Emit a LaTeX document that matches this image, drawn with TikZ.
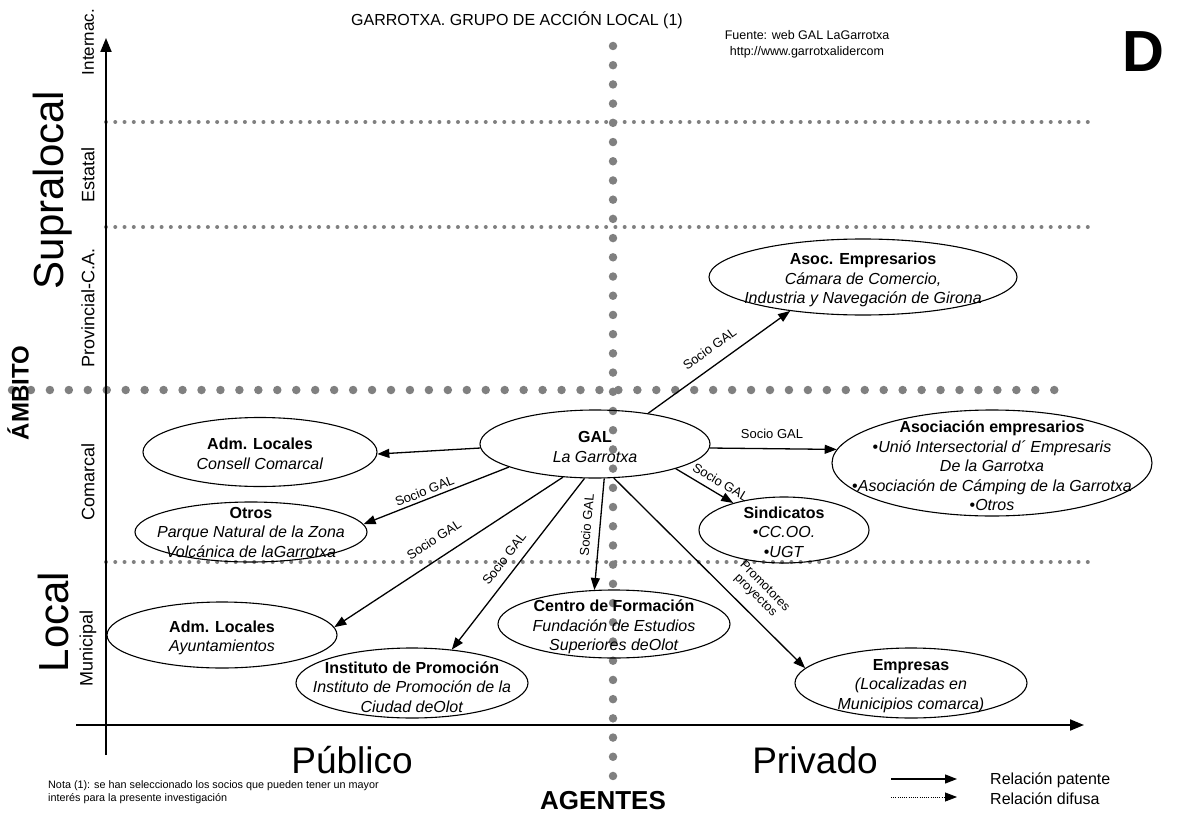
\documentclass[tikz,border=0pt]{standalone}
\usepackage{fontspec}
\setmainfont{Liberation Sans}
\usetikzlibrary{arrows.meta,shapes.geometric}
\definecolor{dotgray}{RGB}{128,128,128}
\begin{document}
\begin{tikzpicture}[x=1pt,y=-1pt,
  ell/.style={draw, ellipse, inner sep=0pt, line width=1.1pt},
  ntext/.style={align=center, inner sep=0pt, font=\fontsize{16}{19.5}\selectfont},
  lab/.style={font=\fontsize{13}{14}\selectfont, inner sep=2pt},
  rel/.style={line width=1.3pt, -{Triangle[length=12pt,width=9pt]}},
  axis/.style={line width=2pt, -{Triangle[length=14pt,width=11pt]}},
  bigdots/.style={dotgray, line width=8.5pt, line cap=round, dash pattern=on 0pt off 18.95pt},
  vbigdots/.style={dotgray, line width=8.5pt, line cap=round, dash pattern=on 0pt off 19.21pt},
  smalldots/.style={dotgray, line width=4pt, line cap=round, dash pattern=on 0pt off 9.262pt},
  axlab/.style={rotate=90, font=\fontsize{18}{20}\selectfont, inner sep=0pt},
  biglab/.style={font=\fontsize{42}{44}\selectfont, inner sep=0pt}
]
\useasboundingbox (0,0) rectangle (1178,816);

% dotted grid lines
\draw[smalldots] (106,122) -- (1097,122);
\draw[smalldots] (106,227) -- (1097,227);
\draw[smalldots] (106,562) -- (1097,562);
\draw[bigdots] (12,390) -- (1073,390);
\draw[vbigdots] (613,46) -- (613,776);

% axes
\coordinate (yb) at (106,755);
\coordinate (yt) at (106,38);
\coordinate (xl) at (76,725);
\coordinate (xr) at (1084,725);
\draw[axis] (yb) -- (yt);
\draw[axis] (xl) -- (xr);

% titles
\node[font=\fontsize{16}{18}\selectfont, inner sep=0pt] (title) at (517,20) {GARROTXA. GRUPO DE ACCIÓN LOCAL (1)};
\node[font=\fontsize{12.5}{16}\selectfont, align=center, inner sep=0pt] (fuente) at (807,44) {Fuente: web GAL LaGarrotxa\\http://www.garrotxalidercom};
\node[font=\fontsize{58}{60}\selectfont\bfseries, inner sep=0pt] (D) at (1143,52) {D};

% axis labels
\node[axlab, font=\fontsize{17}{20}\selectfont] (internac) at (88,42) {Internac.};
\node[axlab] (estatal) at (88,175) {Estatal};
\node[axlab] (provincial) at (88,308) {Provincial-C.A.};
\node[axlab] (comarcal) at (88,482) {Comarcal};
\node[axlab] (municipal) at (88,648) {Municipal};
\node[biglab, rotate=90] (supralocal) at (53,190) {Supralocal};
\node[biglab, rotate=90] (local) at (53,622) {Local};
\node[rotate=90, font=\fontsize{24}{26}\selectfont\bfseries, inner sep=0pt] (ambito) at (18,393) {ÁMBITO};
\node[font=\fontsize{37}{40}\selectfont, inner sep=0pt] (publico) at (352,760) {Público};
\node[font=\fontsize{37}{40}\selectfont, inner sep=0pt] (privado) at (815,760) {Privado};
\node[font=\fontsize{26}{28}\selectfont\bfseries, inner sep=0pt] (agentes) at (603,801) {AGENTES};
\node[font=\fontsize{10.8}{13.5}\selectfont, align=left, anchor=north west, inner sep=0pt] (nota) at (48,780) {Nota (1): se han seleccionado los socios que pueden tener un mayor\\interés para la presente investigación};

% legend
\coordinate (l1a) at (891,779);
\coordinate (l1b) at (957,779);
\coordinate (l2a) at (891,797);
\coordinate (l2b) at (957,797);
\draw[line width=1.3pt, -{Triangle[length=12pt,width=9pt]}] (l1a) -- (l1b);
\draw[line width=0.8pt, dash pattern=on 1pt off 1.2pt, -{Triangle[length=12pt,width=9pt]}] (l2a) -- (l2b);
\node[font=\fontsize{16}{18}\selectfont, anchor=west, inner sep=0pt] (patente) at (990,780) {Relación patente};
\node[font=\fontsize{16}{18}\selectfont, anchor=west, inner sep=0pt] (difusa) at (990,799) {Relación difusa};

% ellipses
\node[ell, minimum width=308, minimum height=76] (asoc) at (863,277) {};
\node[ell, minimum width=320, minimum height=106] (ae) at (992,463) {};
\node[ell, minimum width=230, minimum height=68] (gal) at (595,444) {};
\node[ell, minimum width=170, minimum height=66] (sind) at (784,530) {};
\node[ell, minimum width=232, minimum height=68] (centro) at (614,624) {};
\node[ell, minimum width=234, minimum height=69] (cons) at (260,452) {};
\node[ell, minimum width=232, minimum height=60] (otros) at (251,532) {};
\node[ell, minimum width=230, minimum height=66] (ayu) at (222,635) {};
\node[ell, minimum width=232, minimum height=70] (inst) at (412,683) {};
\node[ell, minimum width=232, minimum height=70] (emp) at (911,683) {};

% ellipse texts
\node[ntext] (asoct) at ([yshift=-3pt]asoc.center) {\textbf{Asoc. Empresarios}\\\textit{Cámara de Comercio,}\\\textit{Industria y Navegación de Girona}};
\node[ntext] (aet) at ([yshift=-3pt]ae.center) {\textbf{Asociación empresarios}\\•\textit{Unió Intersectorial d´ Empresaris}\\\textit{De la Garrotxa}\\•\textit{Asociación de Cámping de la Garrotxa}\\•\textit{Otros}};
\node[ntext] (galt) at ([yshift=-3pt]gal.center) {\textbf{GAL}\\\textit{La Garrotxa}};
\node[ntext] (sindt) at ([yshift=-2pt]sind.center) {\textbf{Sindicatos}\\•\textit{CC.OO.}\\•\textit{UGT}};
\node[ntext] (centrot) at ([yshift=-3pt]centro.center) {\textbf{Centro de Formación}\\\textit{Fundación de Estudios}\\\textit{Superiores deOlot}};
\node[ntext] (const) at ([yshift=-2pt]cons.center) {\textbf{Adm. Locales}\\\textit{Consell Comarcal}};
\node[ntext] (otrost) at (otros.center) {\textbf{Otros}\\\textit{Parque Natural de la Zona}\\\textit{Volcánica de laGarrotxa}};
\node[ntext] (ayut) at ([yshift=-3pt]ayu.center) {\textbf{Adm. Locales}\\\textit{Ayuntamientos}};
\node[ntext] (instt) at ([yshift=-4pt]inst.center) {\textbf{Instituto de Promoción}\\\textit{Instituto de Promoción de la}\\\textit{Ciudad deOlot}};
\node[ntext] (empt) at ([yshift=-3pt]emp.center) {\textbf{Empresas}\\\textit{(Localizadas en}\\\textit{Municipios comarca)}};

% relations
\draw[rel] (gal.30) -- node[lab, sloped, above, pos=0.5, inner sep=11pt] {Socio GAL} (asoc.205);
\draw[rel] (gal.-2) -- node[lab, above, pos=0.49, inner sep=9pt] {Socio GAL} (ae.175);
\draw[rel] (gal.-17) -- node[lab, sloped, above, pos=0.68, inner sep=6pt] {Socio GAL} (sind.152);
\draw[rel] (gal.-75) -- node[lab, sloped, above, pos=0.43, inner sep=8pt] {Socio GAL} (centro.120);
\draw[rel] (gal.-61) -- node[font=\fontsize{12.5}{13}\selectfont, inner sep=10pt, align=center, sloped, above, pos=0.68] {Promotores\\proyectos} (emp.172);
\draw[rel] (gal.-107) -- node[lab, sloped, above, pos=0.52, inner sep=9pt] {Socio GAL} (inst.40);
\draw[rel] (gal.-134) -- node[lab, sloped, above, pos=0.52, inner sep=13pt] {Socio GAL} (ayu.4);
\draw[rel] (gal.195) -- node[lab, sloped, above, pos=0.56, inner sep=3pt] {Socio GAL} (otros.4);
\draw[rel] (gal.182) -- (cons.-1);
\end{tikzpicture}
\end{document}
